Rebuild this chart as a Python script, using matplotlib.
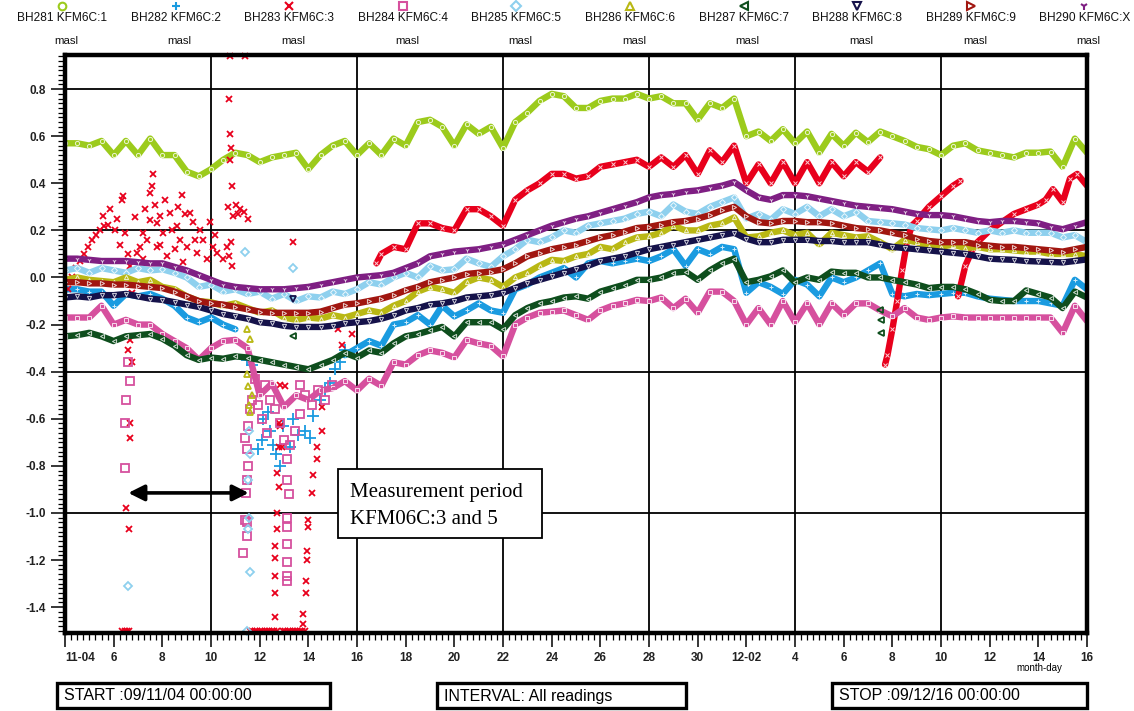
import numpy as np
import matplotlib
matplotlib.use("Agg")
import matplotlib.pyplot as plt
from matplotlib.lines import Line2D
from matplotlib.patches import Rectangle

plt.rcParams['font.family'] = ['Liberation Sans', 'DejaVu Sans']

W, H = 1134, 711

# ---------------------------------------------------------------------------
# Groundwater levels (m above sea level), readings every half day from
# 2009-11-04 00:00 (day 0) to 2009-12-16 00:00 (day 42)
# ---------------------------------------------------------------------------
STEP_DAYS = 0.5

bh281 = [0.57, 0.57, 0.56, 0.58, 0.52, 0.58, 0.52, 0.59, 0.52, 0.52,
         0.45, 0.43, 0.46, 0.50, 0.53, 0.52, 0.49, 0.51, 0.52, 0.53,
         0.46, 0.52, 0.56, 0.58, 0.52, 0.57, 0.52, 0.59, 0.56, 0.66,
         0.67, 0.64, 0.56, 0.65, 0.61, 0.64, 0.55, 0.66, 0.70, 0.75,
         0.78, 0.77, 0.72, 0.72, 0.75, 0.76, 0.76, 0.78, 0.76, 0.77,
         0.74, 0.74, 0.67, 0.74, 0.72, 0.76, 0.60, 0.62, 0.58, 0.63,
         0.57, 0.62, 0.53, 0.61, 0.56, 0.615, 0.575, 0.62, 0.60, 0.58,
         0.555, 0.545, 0.52, 0.56, 0.57, 0.54, 0.53, 0.52, 0.51, 0.53,
         0.53, 0.535, 0.47, 0.59, 0.53]

bh282 = [-0.05, -0.05, -0.06, -0.06, -0.12, -0.07, -0.08, -0.07, -0.09, -0.12,
         -0.17, -0.19, -0.17, -0.20, -0.22, np.nan, np.nan, np.nan, np.nan, np.nan,
         np.nan, np.nan, np.nan, -0.33, -0.30, -0.27, -0.29, -0.20, -0.19, -0.16,
         -0.20, -0.12, -0.165, -0.14, -0.11, -0.14, -0.15, -0.05, -0.03, 0.0,
         0.02, 0.04, 0.0, 0.06, 0.07, 0.06, 0.07, 0.08, 0.07, 0.09,
         0.12, 0.05, 0.12, 0.10, 0.13, 0.12, -0.065, -0.02, -0.04, -0.07,
         -0.01, -0.03, -0.08, 0.0, -0.02, 0.0, 0.03, 0.06, -0.07, -0.08,
         -0.07, -0.075, -0.07, -0.065, -0.065, -0.08, -0.09, -0.095, -0.10, -0.10,
         -0.10, -0.11, -0.12, -0.01, -0.05]

bh284 = [-0.17, -0.17, -0.17, -0.12, -0.20, -0.18, -0.20, -0.20, -0.24, -0.27,
         -0.30, -0.35, -0.30, -0.27, -0.265, -0.30, -0.50, -0.45, -0.55, -0.50,
         -0.52, -0.48, -0.47, -0.44, -0.48, -0.43, -0.46, -0.36, -0.37, -0.33,
         -0.31, -0.32, -0.34, -0.265, -0.28, -0.29, -0.335, -0.20, -0.17, -0.15,
         -0.145, -0.14, -0.16, -0.18, -0.14, -0.12, -0.11, -0.095, -0.10, -0.085,
         -0.13, -0.09, -0.15, -0.06, -0.06, -0.10, -0.20, -0.13, -0.20, -0.10,
         -0.19, -0.11, -0.20, -0.11, -0.16, -0.11, -0.11, -0.14, -0.165, -0.13,
         -0.17, -0.18, -0.17, -0.165, -0.17, -0.17, -0.17, -0.17, -0.17, -0.17,
         -0.17, -0.17, -0.235, -0.12, -0.185]

bh285 = [0.03, 0.04, 0.02, 0.04, 0.03, 0.02, 0.04, 0.03, 0.035, 0.02,
         0.0, -0.04, -0.03, -0.06, -0.05, -0.07, -0.06, -0.09, -0.07, -0.10,
         -0.08, -0.085, -0.06, -0.07, -0.05, -0.02, -0.03, 0.0, 0.02, 0.0,
         0.05, 0.03, 0.035, 0.08, 0.06, 0.045, 0.09, 0.12, 0.16, 0.15,
         0.17, 0.20, 0.19, 0.22, 0.23, 0.24, 0.25, 0.27, 0.28, 0.26,
         0.31, 0.28, 0.27, 0.30, 0.32, 0.34, 0.25, 0.27, 0.245, 0.29,
         0.27, 0.30, 0.26, 0.29, 0.26, 0.28, 0.24, 0.235, 0.23, 0.225,
         0.21, 0.205, 0.20, 0.21, 0.20, 0.19, 0.20, 0.19, 0.20, 0.19,
         0.19, 0.19, 0.17, 0.18, 0.15]

bh286 = [-0.01, 0.0, -0.01, -0.015, -0.02, 0.0, -0.02, -0.01, -0.04, -0.05,
         -0.08, -0.10, -0.105, -0.12, -0.11, -0.13, -0.15, -0.14, -0.17, -0.18,
         -0.17, -0.175, -0.16, -0.17, -0.155, -0.14, -0.15, -0.12, -0.10, -0.06,
         -0.04, -0.05, -0.065, -0.02, 0.0, -0.01, -0.04, 0.0, 0.02, 0.05,
         0.075, 0.07, 0.09, 0.10, 0.13, 0.12, 0.15, 0.17, 0.175, 0.19,
         0.22, 0.20, 0.20, 0.22, 0.23, 0.255, 0.17, 0.175, 0.19, 0.20,
         0.18, 0.19, 0.14, 0.19, 0.18, 0.17, 0.175, 0.15, 0.12, 0.16,
         0.15, 0.13, 0.13, 0.14, 0.125, 0.13, 0.12, 0.12, 0.115, 0.11,
         0.11, 0.10, 0.10, 0.10, 0.09]

bh287 = [-0.25, -0.245, -0.235, -0.25, -0.27, -0.25, -0.245, -0.24, -0.26, -0.29,
         -0.33, -0.35, -0.34, -0.345, -0.335, -0.34, -0.35, -0.36, -0.37, -0.38,
         -0.39, -0.37, -0.35, -0.32, -0.34, -0.31, -0.32, -0.28, -0.25, -0.24,
         -0.225, -0.21, -0.25, -0.19, -0.19, -0.19, -0.22, -0.16, -0.13, -0.11,
         -0.10, -0.085, -0.08, -0.09, -0.06, -0.045, -0.03, -0.01, -0.01, 0.0,
         0.02, 0.025, -0.01, 0.03, 0.06, 0.08, -0.02, -0.01, 0.005, 0.03,
         -0.02, 0.0, -0.01, 0.025, 0.02, 0.02, 0.0, 0.0, -0.01, -0.02,
         -0.03, -0.045, -0.04, -0.04, -0.05, -0.07, -0.095, -0.10, -0.10, -0.055,
         -0.07, -0.085, -0.13, -0.06, -0.085]

bh288 = [-0.085, -0.08, -0.085, -0.075, -0.075, -0.07, -0.08, -0.09, -0.095, -0.105,
         -0.115, -0.125, -0.14, -0.155, -0.165, -0.175, -0.19, -0.195, -0.205, -0.21,
         -0.21, -0.21, -0.205, -0.195, -0.19, -0.185, -0.175, -0.16, -0.14, -0.13,
         -0.115, -0.11, -0.10, -0.085, -0.08, -0.075, -0.065, -0.045, -0.025, -0.01,
         0.005, 0.02, 0.035, 0.05, 0.07, 0.08, 0.09, 0.105, 0.12, 0.13,
         0.14, 0.15, 0.16, 0.17, 0.18, 0.19, 0.165, 0.15, 0.15, 0.16,
         0.16, 0.16, 0.155, 0.155, 0.15, 0.15, 0.15, 0.14, 0.13, 0.125,
         0.12, 0.115, 0.11, 0.105, 0.10, 0.09, 0.08, 0.077, 0.075, 0.07,
         0.068, 0.066, 0.064, 0.07, 0.077]

bh289 = [-0.02, -0.02, -0.025, -0.025, -0.03, -0.03, -0.035, -0.04, -0.045, -0.06,
         -0.08, -0.10, -0.11, -0.115, -0.125, -0.135, -0.145, -0.15, -0.15, -0.15,
         -0.15, -0.145, -0.13, -0.115, -0.11, -0.10, -0.09, -0.075, -0.055, -0.04,
         -0.02, -0.01, 0.0, 0.015, 0.02, 0.025, 0.035, 0.06, 0.09, 0.105,
         0.12, 0.13, 0.14, 0.155, 0.17, 0.18, 0.195, 0.21, 0.215, 0.225,
         0.235, 0.24, 0.25, 0.265, 0.285, 0.30, 0.26, 0.235, 0.23, 0.24,
         0.24, 0.235, 0.235, 0.23, 0.22, 0.21, 0.205, 0.20, 0.19, 0.18,
         0.165, 0.155, 0.15, 0.15, 0.15, 0.14, 0.135, 0.13, 0.13, 0.125,
         0.12, 0.115, 0.11, 0.12, 0.13]

bh290 = [0.08, 0.08, 0.075, 0.07, 0.07, 0.07, 0.065, 0.06, 0.06, 0.045,
         0.03, 0.01, -0.01, -0.03, -0.04, -0.045, -0.05, -0.05, -0.05, -0.045,
         -0.04, -0.03, -0.02, -0.01, 0.0, 0.005, 0.01, 0.02, 0.04, 0.06,
         0.09, 0.10, 0.11, 0.115, 0.12, 0.13, 0.14, 0.16, 0.18, 0.20,
         0.22, 0.235, 0.25, 0.26, 0.275, 0.29, 0.305, 0.32, 0.34, 0.35,
         0.355, 0.365, 0.37, 0.38, 0.39, 0.405, 0.37, 0.34, 0.33, 0.35,
         0.35, 0.345, 0.335, 0.325, 0.315, 0.305, 0.30, 0.295, 0.29, 0.28,
         0.27, 0.265, 0.265, 0.26, 0.25, 0.24, 0.235, 0.24, 0.24, 0.235,
         0.23, 0.215, 0.205, 0.22, 0.235]

# KFM06C:3 logged continuously only from day ~12.8; gaps are NaN
bh283_days = [12.8, 13.0, 13.5, 14.0, 14.5, 15.0, 15.5, 16.0, 16.5, 17.0, 17.5,
              18.0, 18.5, 19.0, 19.5, 20.0, 20.5, 21.0, 21.5, 22.0, 22.5, 23.0,
              23.5, 24.0, 24.5, 25.0, 25.5, 26.0, 26.5, 27.0, 27.5, 28.0, 28.5,
              29.0, 29.5, 30.0, 30.5, 31.0, 31.5, 32.0, 32.5, 33.0, 33.5,
              np.nan,
              33.7, 33.8, 34.0, 34.2, 34.4, 34.6, 34.8, 35.0, 35.5, 36.0, 36.5, 36.8,
              np.nan,
              36.7, 37.0, 37.3, 37.5, 38.0, 38.5, 39.0, 39.5, 40.0, 40.3, 40.6,
              41.0, 41.3, 41.6, 42.0]
bh283_vals = [0.06, 0.10, 0.13, 0.12, 0.23, 0.23, 0.21, 0.20, 0.29, 0.29, 0.26,
              0.22, 0.33, 0.37, 0.40, 0.44, 0.44, 0.42, 0.43, 0.47, 0.48, 0.49,
              0.50, 0.47, 0.51, 0.47, 0.52, 0.44, 0.54, 0.49, 0.56, 0.40, 0.48,
              0.40, 0.49, 0.40, 0.49, 0.40, 0.49, 0.43, 0.49, 0.45, 0.51,
              np.nan,
              -0.37, -0.33, -0.22, -0.10, 0.03, 0.15, 0.22, 0.24, 0.30, 0.345, 0.39, 0.41,
              np.nan,
              -0.08, 0.05, 0.12, 0.15, 0.20, 0.235, 0.27, 0.29, 0.31, 0.33, 0.375,
              0.32, 0.42, 0.44, 0.39]

# Scattered KFM06C:3 readings during the disturbed period
bh283_scatter_days = [0.12, 0.29, 0.45, 0.62, 0.78, 0.95, 1.1, 1.28, 1.44, 1.6,
                      1.56, 1.85, 2.14, 2.34, 2.39, 2.47, 2.88, 3.09, 3.21, 3.5,
                      3.58, 3.62, 3.5, 3.78, 3.91, 3.37, 3.78, 4.03, 4.32, 4.65,
                      4.61, 4.73, 5.02, 5.14, 5.27, 5.43, 5.68, 5.84, 5.96, 6.09,
                      6.25, 6.5, 6.66, 2.96, 2.67, 3.21, 4.2, 4.85, 2.59, 2.06,
                      2.26, 3.29, 4.11, 4.4, 4.94, 5.55, 6.17, 3.91, 4.52, 5.35,
                      1.77, 3.7, 4.81,
                      2.76, 2.67, 2.59, 2.76, 2.67, 2.67, 2.51, 2.63,
                      6.8, 7.4, 6.75, 6.8, 6.83, 6.79, 6.87, 6.7, 6.91, 6.83,
                      6.75, 6.87, 7.03, 7.2, 7.36, 7.53, 7.12, 9.38,
                      11.23, 11.4, 11.8, 9.05, 8.84, 8.84, 8.93,
                      8.8, 8.8, 8.72, 8.8, 8.72, 8.72, 8.64, 8.64, 8.64, 8.64, 8.64,
                      10.57, 10.57, 10.37, 10.37, 10.2, 10.16, 10.0, 10.0, 9.95,
                      9.95, 9.91, 9.91, 9.79, 9.79,
                      2.35, 2.45, 2.55, 2.65,
                      7.6, 7.7, 7.8, 7.9, 8.0, 8.1, 8.2, 8.3, 8.4, 8.5, 8.6, 8.7,
                      8.95, 9.05, 9.15, 9.25, 9.35, 9.45, 9.55, 9.65, 9.75, 9.85]
bh283_scatter_vals = [-0.05, 0.0, 0.04, 0.07, 0.10, 0.13, 0.16, 0.18, 0.20, 0.22,
                      0.26, 0.29, 0.25, 0.33, 0.345, 0.19, 0.255, 0.13, 0.19, 0.245,
                      0.39, 0.44, 0.36, 0.23, 0.26, 0.16, 0.13, 0.19, 0.276, 0.30,
                      0.217, 0.16, 0.13, 0.276, 0.234, 0.106, 0.16, 0.077, 0.234, 0.13,
                      0.106, 0.077, 0.13, 0.106, 0.047, 0.077, 0.09, 0.064, 0.10, 0.20,
                      0.14, 0.29, 0.33, 0.20, 0.27, 0.20, 0.18, 0.14, 0.12, 0.16,
                      0.225, 0.31, 0.35,
                      -0.065, -0.265, -0.31, -0.36, -0.62, -0.68, -0.98, -1.07,
                      0.94, 0.94, 0.76, 0.61, 0.55, 0.50, 0.39, 0.30, 0.26, 0.15,
                      0.09, 0.047, 0.31, 0.29, 0.277, 0.25, 0.27, 0.15,
                      -0.22, -0.285, -0.24, -0.46, -0.455, -0.63, -0.72,
                      -0.62, -0.72, -0.83, -0.89, -1.0, -1.07, -1.14, -1.19, -1.27, -1.34, -1.44,
                      -0.55, -0.65, -0.72, -0.77, -0.84, -0.915, -1.03, -1.06, -1.16,
                      -1.2, -1.29, -1.34, -1.43, -1.47,
                      -1.5, -1.5, -1.5, -1.5,
                      -1.5, -1.5, -1.5, -1.5, -1.5, -1.5, -1.5, -1.5, -1.5, -1.5, -1.5, -1.5,
                      -1.5, -1.5, -1.5, -1.5, -1.5, -1.5, -1.5, -1.5, -1.5, -1.5]

bh282_scatter_days = [7.49, 7.7, 8.14, 8.43, 8.56, 8.68, 8.84, 8.35, 8.97, 9.38,
                      9.58, 9.87, 10.08, 10.2, 10.49, 10.7, 10.9, 11.1, 11.3, 11.5,
                      7.94, 8.1, 9.26]
bh282_scatter_vals = [-0.35, -0.37, -0.60, -0.65, -0.71, -0.75, -0.80, -0.57, -0.63, -0.60,
                      -0.67, -0.65, -0.68, -0.59, -0.52, -0.48, -0.45, -0.39, -0.36, -0.31,
                      -0.73, -0.69, -0.72]

bh284_scatter_days = [2.59, 2.67, 2.51, 2.47, 2.47,
                      7.4, 7.49, 7.53, 7.49, 7.45, 7.49, 7.49, 7.32, 7.4, 7.53, 7.61, 7.69,
                      9.13, 9.13, 9.21, 9.13, 9.13, 9.13, 9.13, 9.13, 9.13,
                      7.94, 8.1, 8.31, 8.43, 8.64, 8.84, 9.0, 9.26, 9.46, 9.67,
                      9.87, 10.16, 10.4, 10.7, 10.98, 7.82, 8.23, 9.67]
bh284_scatter_vals = [-0.36, -0.44, -0.52, -0.62, -0.81,
                      -0.68, -0.73, -0.80, -0.86, -0.915, -1.04, -1.10, -1.17, -1.03, -0.63, -0.56, -0.52,
                      -0.77, -0.86, -0.92, -1.02, -1.06, -1.13, -1.21, -1.27, -1.29,
                      -0.54, -0.60, -0.66, -0.52, -0.56, -0.62, -0.69, -0.71, -0.65, -0.58,
                      -0.50, -0.54, -0.48, -0.52, -0.455, -0.43, -0.455, -0.455]

bh285_scatter_days = [2.59, 7.55, 7.6, 7.5, 7.55, 7.5, 7.6, 7.4, 9.38, 7.49]
bh285_scatter_vals = [-1.31, -0.65, -0.75, -0.86, -1.02, -1.07, -1.25, 0.11, 0.04, -1.5]

bh286_scatter_days = [7.49, 7.61, 7.49, 7.53, 7.57, 7.61, 7.69]
bh286_scatter_vals = [-0.22, -0.26, -0.41, -0.46, -0.54, -0.57, -0.50]

bh287_scatter_days = [33.5, 33.55, 33.55, 9.38]
bh287_scatter_vals = [-0.14, -0.18, -0.235, -0.25]

bh288_scatter_days = [9.38]
bh288_scatter_vals = [-0.09]

# Sensors (top header), colours and plotting symbols
names = ["BH281 KFM6C:1", "BH282 KFM6C:2", "BH283 KFM6C:3", "BH284 KFM6C:4",
         "BH285 KFM6C:5", "BH286 KFM6C:6", "BH287 KFM6C:7", "BH288 KFM6C:8",
         "BH289 KFM6C:9", "BH290 KFM6C:X"]
unit = "masl"
colors = ["#9ccb1c", "#1a9be0", "#e8001c", "#d6509e", "#8ed0ee",
          "#b9b814", "#0e4e1d", "#15124a", "#a11610", "#7f1f83"]
markers = ["o", "+", "x", "s", "D", "^", "<", "v", ">", "1"]

day_ticks = list(range(0, 43, 2))
day_labels = ["11-04", "6", "8", "10", "12", "14", "16", "18", "20", "22", "24",
              "26", "28", "30", "12-02", "4", "6", "8", "10", "12", "14", "16"]
grid_days = [6, 12, 18, 24, 30, 36]
grid_levels = [0.8, 0.2, -0.4, -1.0]
level_ticks = [-1.4, -1.2, -1.0, -0.8, -0.6, -0.4, -0.2, 0.0, 0.2, 0.4, 0.6, 0.8]

# ---------------------------------------------------------------------------
fig = plt.figure(figsize=(W / 100, H / 100), dpi=100)
fig.patch.set_facecolor("white")


def fx(px):
    return px / W


def fy(py):
    return 1 - py / H


ax = fig.add_axes([fx(65), fy(633), fx(1087) - fx(65), fy(55) - fy(633)])
ax.set_xlim(0, 42)
ax.set_ylim(-1.51, 0.945)

for d in grid_days:
    ax.axvline(d, color="black", lw=1.3, zorder=0.5)
for v in grid_levels:
    ax.axhline(v, color="black", lw=1.3, zorder=0.5)


def band(days, vals, color, marker, z):
    ax.plot(days, vals, color=color, lw=4.6, solid_joinstyle="round",
            solid_capstyle="round", zorder=z)
    ax.plot(days, vals, ls="none", marker=marker, ms=3.0, mfc="none",
            mec="white", mew=0.7, alpha=0.8, zorder=z + 0.05)


def scatter(days, vals, color, marker, z, ms=5.5, clip=True):
    ax.plot(days, vals, ls="none", marker=marker, ms=ms, mfc="none",
            mec=color, mew=1.3, zorder=z, clip_on=clip)


series = [bh281, bh282, None, bh284, bh285, bh286, bh287, bh288, bh289, bh290]
for i, vals in enumerate(series):
    if vals is not None:
        vals = np.asarray(vals, dtype=float)
        band(np.arange(len(vals)) * STEP_DAYS, vals, colors[i], markers[i],
             2 + i * 0.1)

# KFM06C:3 continuous part and scattered readings
band(bh283_days, bh283_vals, colors[2], "x", 2.2)
scatter(bh283_scatter_days, bh283_scatter_vals, colors[2], "x", 2.25, ms=4.5,
        clip=False)

scatter(bh282_scatter_days, bh282_scatter_vals, colors[1], "+", 2.15, ms=8)
scatter(bh284_scatter_days, bh284_scatter_vals, colors[3], "s", 2.35, ms=6)
scatter(bh285_scatter_days, bh285_scatter_vals, colors[4], "D", 2.45, ms=4.5,
        clip=False)
scatter(bh286_scatter_days, bh286_scatter_vals, colors[5], "^", 2.55, ms=5)
scatter(bh287_scatter_days, bh287_scatter_vals, colors[6], "<", 2.65, ms=5)
scatter(bh288_scatter_days, bh288_scatter_vals, colors[7], "v", 2.75, ms=5)

# Axes frame and ticks
for sp in ax.spines.values():
    sp.set_linewidth(3.2)
    sp.set_zorder(5)
ax.set_xticks(day_ticks)
ax.set_xticklabels(day_labels)
ax.set_xticks(np.arange(0, 42.01, 0.25), minor=True)
ax.set_yticks(level_ticks)
ax.set_yticklabels(["%.1f" % v for v in level_ticks])
ax.set_yticks(np.arange(-1.50, 0.941, 0.02), minor=True)
ax.tick_params(which="major", direction="out", length=10, width=1.1,
               labelsize=8.5, pad=4, colors="black")
ax.tick_params(which="minor", direction="out", length=5, width=0.9)
for lab in ax.get_xticklabels() + ax.get_yticklabels():
    lab.set_fontweight("bold")
    lab.set_color("#222222")
ax.get_xticklabels()[0].set_horizontalalignment("left")
fig.text(fx(1062), fy(668), "month-day", ha="right", va="center", fontsize=7)

# Measurement-period annotation
ax.annotate("", xy=(7.55, -0.915), xytext=(2.6, -0.915),
            arrowprops=dict(arrowstyle="<|-|>", lw=2.6, color="black",
                            mutation_scale=24, shrinkA=0, shrinkB=0),
            zorder=6)
fig.patches.append(Rectangle((fx(338), fy(538)), fx(542) - fx(338),
                             fy(469) - fy(538), transform=fig.transFigure,
                             facecolor="white", edgecolor="black", lw=1.3,
                             zorder=7))
fig.text(fx(350), fy(493), "Measurement period", family="Liberation Serif",
         fontsize=15, va="center", ha="left", zorder=8)
fig.text(fx(350), fy(520), "KFM06C:3 and 5", family="Liberation Serif",
         fontsize=15, va="center", ha="left", zorder=8)

# Header with sensor names and symbols
for i, name in enumerate(names):
    xc = 62 + 113.6 * i
    fig.add_artist(Line2D([fx(xc)], [fy(6)], transform=fig.transFigure,
                          marker=markers[i], ms=5.5, mfc="none", mec=colors[i],
                          mew=1.5, ls="none"))
    fig.text(fx(xc), fy(18), name, ha="center", va="center", fontsize=8.6,
             color="#111111")
    fig.text(fx(xc + 4), fy(41), unit, ha="center", va="center", fontsize=8.2,
             color="#111111")

# Information boxes below the chart
for (x0, x1, label) in [(57, 330, "START :09/11/04 00:00:00"),
                        (437, 686, "INTERVAL: All readings"),
                        (832, 1087, "STOP :09/12/16 00:00:00")]:
    fig.patches.append(Rectangle((fx(x0), fy(708)), fx(x1) - fx(x0),
                                 fy(683) - fy(708), transform=fig.transFigure,
                                 facecolor="white", edgecolor="black", lw=2.4))
    fig.text(fx(x0 + 7), fy(696), label, ha="left", va="center", fontsize=11.5)

fig.savefig("out.png", dpi=100)
